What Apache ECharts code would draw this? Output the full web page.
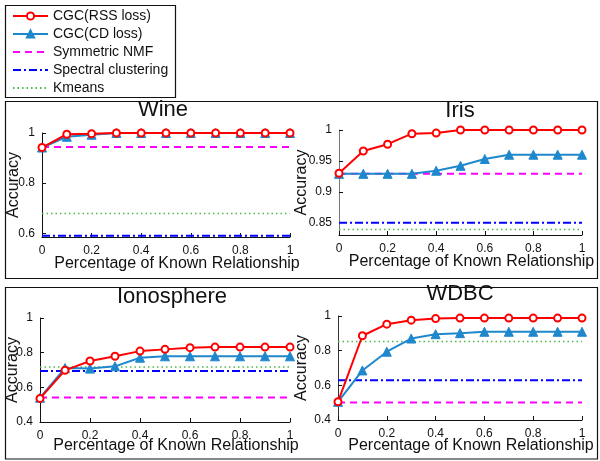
<!DOCTYPE html>
<html>
<head>
<meta charset="utf-8">
<script src="https://cdn.jsdelivr.net/npm/echarts@6/dist/echarts.min.js"></script>
<style>html,body{margin:0;padding:0;background:#fff}#c{width:600px;height:461px}</style>
</head>
<body>
<div id="c"></div>
<script>
// ---- data ----
const xs = [0, 0.1, 0.2, 0.3, 0.4, 0.5, 0.6, 0.7, 0.8, 0.9, 1];
const seriesNames = ['CGC(RSS loss)', 'CGC(CD loss)', 'Symmetric NMF', 'Spectral clustering', 'Kmeans'];
const panelTitles = ['Wine', 'Iris', 'Ionosphere', 'WDBC'];

const wineRSS = [0.942, 0.995, 0.997, 1, 1, 1, 1, 1, 1, 1, 1];
const wineCD  = [0.942, 0.985, 0.993, 1, 1, 1, 1, 1, 1, 1, 1];
const wineBase = [0.944, 0.59, 0.679];       // Symmetric NMF, Spectral, Kmeans
const wineYTicks = [0.6, 0.8, 1];

const irisRSS = [0.930, 0.966, 0.977, 0.994, 0.995, 1, 1, 1, 1, 1, 1];
const irisCD  = [0.929, 0.929, 0.929, 0.929, 0.934, 0.942, 0.953, 0.960, 0.960, 0.960, 0.960];
const irisBase = [0.929, 0.85, 0.839];
const irisYTicks = [0.85, 0.9, 0.95, 1];

const ionoRSS = [0.536, 0.698, 0.752, 0.779, 0.809, 0.819, 0.829, 0.832, 0.832, 0.832, 0.832];
const ionoCD  = [0.540, 0.711, 0.708, 0.721, 0.771, 0.779, 0.779, 0.779, 0.779, 0.779, 0.779];
const ionoBase = [0.541, 0.694, 0.717];
const ionoYTicks = [0.4, 0.6, 0.8, 1];

const wdbcRSS = [0.505, 0.886, 0.953, 0.976, 0.985, 0.988, 0.988, 0.988, 0.988, 0.988, 0.988];
const wdbcCD  = [0.505, 0.686, 0.794, 0.870, 0.895, 0.901, 0.909, 0.909, 0.909, 0.909, 0.909];
const wdbcBase = [0.501, 0.629, 0.853];
const wdbcYTicks = [0.4, 0.6, 0.8, 1];

// ---- layout / style ----
const FONT = "'Liberation Sans', Arial, Helvetica, sans-serif";
const panels = [
  {rss: wineRSS, cd: wineCD, base: wineBase, yt: wineYTicks, ymin: 0.585, ymax: 1,
   grid: {left: 42, top: 133, width: 248, height: 104}, yGap: 20, xGap: 19, yAxisColor: '#111', title: [163, 110]},
  {rss: irisRSS, cd: irisCD, base: irisBase, yt: irisYTicks, ymin: 0.83, ymax: 1,
   grid: {left: 339, top: 130, width: 243, height: 105}, yGap: 29, xGap: 19, yAxisColor: '#777', title: [460, 111]},
  {rss: ionoRSS, cd: ionoCD, base: ionoBase, yt: ionoYTicks, ymin: 0.4, ymax: 1,
   grid: {left: 40, top: 318, width: 250, height: 104}, yGap: 19, xGap: 16, yAxisColor: '#111', title: [172, 297]},
  {rss: wdbcRSS, cd: wdbcCD, base: wdbcBase, yt: wdbcYTicks, ymin: 0.4, ymax: 1,
   grid: {left: 338, top: 316, width: 244, height: 104}, yGap: 28, xGap: 18, yAxisColor: '#333', title: [460, 294]}
];

const RED = '#ff0000', BLUE = '#1f88cc', MAG = '#ff00ff', SPEC = '#0000ff', GREEN = '#4cb84c';
const baseStyles = [
  {color: MAG, width: 2, type: [7, 5]},
  {color: SPEC, width: 2, type: [8, 3, 2, 3]},
  {color: GREEN, width: 1.5, type: [1.5, 3]}
];

const grids = [], xAxes = [], yAxes = [], series = [], graphics = [];
panels.forEach((p, i) => {
  grids.push(Object.assign({}, p.grid));
  xAxes.push({
    type: 'value', gridIndex: i, min: 0, max: 1, interval: 0.2,
    axisLine: {show: true, onZero: false, lineStyle: {color: '#111', width: 1}},
    axisTick: {show: true, inside: true, length: 4, lineStyle: {color: '#111'}},
    axisLabel: {margin: 8, fontSize: 12, color: '#111', fontFamily: FONT,
      formatter: v => String(Math.round(v * 10) / 10)},
    splitLine: {show: false},
    name: 'Percentage of Known Relationship', nameLocation: 'middle', nameGap: p.xGap,
    nameMoveOverlap: false,
    nameTextStyle: {fontSize: 16, color: '#111', fontFamily: FONT, padding: [0, 0, 0, 22]}
  });
  yAxes.push({
    type: 'value', gridIndex: i, min: p.ymin, max: p.ymax,
    axisLine: {show: true, onZero: false, lineStyle: {color: p.yAxisColor, width: 1}},
    axisTick: {show: true, inside: true, length: 4, customValues: p.yt, lineStyle: {color: '#111'}},
    axisLabel: {margin: 7, fontSize: 12, color: '#111', fontFamily: FONT, customValues: p.yt,
      formatter: v => String(Math.round(v * 100) / 100)},
    splitLine: {show: false},
    name: 'Accuracy', nameLocation: 'middle', nameRotate: 90, nameGap: p.yGap,
    nameMoveOverlap: false,
    nameTextStyle: {fontSize: 16, color: '#111', fontFamily: FONT}
  });
  series.push({
    name: seriesNames[0], type: 'line', xAxisIndex: i, yAxisIndex: i, clip: false,
    data: xs.map((x, k) => [x, p.rss[k]]),
    symbol: 'circle', symbolSize: 7, showAllSymbol: true,
    lineStyle: {color: RED, width: 2},
    itemStyle: {color: '#ffffff', borderColor: RED, borderWidth: 2},
    z: 4, animation: false
  });
  series.push({
    name: seriesNames[1], type: 'line', xAxisIndex: i, yAxisIndex: i, clip: false,
    data: xs.map((x, k) => [x, p.cd[k]]),
    symbol: 'triangle', symbolSize: 9, showAllSymbol: true,
    lineStyle: {color: BLUE, width: 2},
    itemStyle: {color: BLUE, borderColor: BLUE, borderWidth: 1},
    z: 3, animation: false
  });
  p.base.forEach((v, b) => {
    series.push({
      name: seriesNames[2 + b], type: 'line', xAxisIndex: i, yAxisIndex: i, clip: false,
      data: [[xs[0], v], [xs[xs.length - 1], v]],
      symbol: 'circle', showSymbol: false,
      lineStyle: baseStyles[b], itemStyle: {color: baseStyles[b].color},
      z: 2, animation: false
    });
  });
  graphics.push({
    type: 'text', x: p.title[0], y: p.title[1], silent: true,
    style: {text: panelTitles[i], fontSize: 22, fontFamily: FONT, fill: '#111', align: 'center', verticalAlign: 'middle'}
  });
});

graphics.push({type: 'rect', shape: {x: 5.5, y: 5.5, width: 170, height: 92}, style: {fill: 'none', stroke: '#111', lineWidth: 1.2}, z: -1});
graphics.push({type: 'rect', shape: {x: 5.5, y: 101.5, width: 592, height: 177}, style: {fill: 'none', stroke: '#111', lineWidth: 1.2}, z: -1});
graphics.push({type: 'rect', shape: {x: 5.5, y: 287.5, width: 592, height: 171.5}, style: {fill: 'none', stroke: '#111', lineWidth: 1.2}, z: -1});

const legendData = seriesNames.map((n, k) => k < 2 ? {name: n} : {name: n, itemStyle: {opacity: 0}});

const chart = echarts.init(document.getElementById('c'), null, {renderer: 'canvas'});
chart.setOption({
  animation: false,
  backgroundColor: '#fff',
  grid: grids,
  xAxis: xAxes,
  yAxis: yAxes,
  legend: {
    data: legendData, orient: 'vertical', left: 12, top: 9, padding: 0,
    itemWidth: 35, itemHeight: 9, itemGap: 4,
    textStyle: {fontSize: 14, color: '#111', fontFamily: FONT, lineHeight: 14},
    selectedMode: false
  },
  graphic: graphics,
  series: series
});
</script>
</body>
</html>
